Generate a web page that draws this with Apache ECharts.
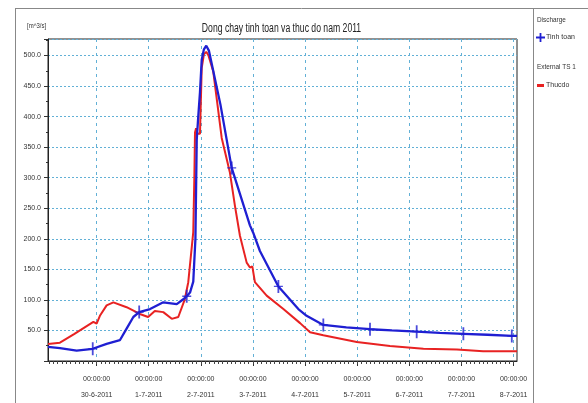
<!DOCTYPE html>
<html>
<head>
<meta charset="utf-8">
<script src="https://cdn.jsdelivr.net/npm/echarts@6/dist/echarts.min.js"></script>
<style>
html,body{margin:0;padding:0;background:#fff;}
#chart{width:588px;height:403px;}
</style>
</head>
<body>
<div id="chart"></div>
<script>
// Hours measured from 30-6-2011 00:00:00
var dayHours = [0, 24, 48, 72, 96, 120, 144, 168, 192];
var dayLabels = ['30-6-2011', '1-7-2011', '2-7-2011', '3-7-2011', '4-7-2011', '5-7-2011', '6-7-2011', '7-7-2011', '8-7-2011'];
var timeLabel = '00:00:00';

// Discharge - Tinh toan (computed)
var tinhToanHours = [-22.4, -16.9, -9.2, -1.8, 4.6, 10.7, 13.8, 16.9, 19.6, 24.6, 30.7, 36.9, 39.9, 41.5, 43.0, 44.5, 45.5, 46.1, 46.8, 47.6, 48.4, 49.4, 50.5, 51.7, 57.0, 62.2, 70.6, 72.1, 75.2, 83.7, 92.9, 96.7, 104.4, 115.0, 125.9, 136.0, 147.4, 158.0, 168.9, 180.0, 191.2, 193.6];
var tinhToanValues = [23, 21, 17, 20, 28, 34, 53, 72, 80, 85, 96, 93, 101, 106, 112, 130, 200, 362, 400, 440, 493, 510, 516, 508, 420, 316, 222, 210, 180, 122, 85, 74, 59, 55, 52, 50, 48, 46, 44.5, 43, 41, 41];

// "+" markers on the computed series
var markerHours = [-1.8, 19.6, 41.5, 62.2, 83.7, 104.4, 125.9, 147.4, 168.9, 191.2];
var markerValues = [20, 80, 106, 316, 122, 59, 52, 48, 44.5, 41];

// External TS 1 - Thucdo (observed)
var thucdoHours = [-22.4, -16.9, -10.4, -1.5, 0, 1.5, 4.6, 7.7, 13.8, 19.9, 23.7, 26.8, 30.7, 34.6, 37.6, 40.6, 42.2, 44.5, 45.0, 45.3, 45.8, 46.5, 47.6, 48.4, 49.4, 50.5, 51.5, 53.7, 57.6, 61.4, 63.7, 66.0, 69.1, 70.6, 71.7, 72.9, 78.3, 86.0, 93.7, 98.3, 104.4, 119.8, 135.1, 150.5, 165.9, 178.0, 193.6];
var thucdoValues = [28, 30, 44, 64, 61, 74, 91, 96, 88, 77, 72, 82, 80, 69, 72, 101, 129, 211, 300, 374, 381, 372, 372, 480, 502, 506, 500, 474, 365, 308, 254, 205, 161, 153, 155, 129, 107, 85, 62, 47, 42, 31, 24.5, 20, 19, 16, 16];

var minorTickHours = [];
for (var h = -22; h <= 192; h += 2) { minorTickHours.push(h); }

function pairs(xs, ys) { return xs.map(function (x, i) { return [x, ys[i]]; }); }

var FONT = "'Liberation Sans Narrow', 'Liberation Sans', Arial, sans-serif";
var PLUS = 'path://M4,0H6V9H10V11H6V20H4V11H0V9H4Z';
var PLUS_SQ = 'path://M4,0H6V4H10V6H6V10H4V6H0V4H4Z';
var BLUE = '#1f1fd2';
var RED = '#e82222';
var GRIDC = '#62b0d6';

var chart = echarts.init(document.getElementById('chart'), null, {renderer: 'canvas'});
chart.setOption({
  backgroundColor: '#fff',
  animation: false,
  graphic: [
    {type: 'line', shape: {x1: 15, y1: 8.5, x2: 588, y2: 8.5}, style: {stroke: '#888', lineWidth: 1}},
    {type: 'line', shape: {x1: 15.5, y1: 8, x2: 15.5, y2: 403}, style: {stroke: '#888', lineWidth: 1}},
    {type: 'line', shape: {x1: 533.5, y1: 8, x2: 533.5, y2: 403}, style: {stroke: '#888', lineWidth: 1}},
    {type: 'text', x: 281.5, y: 29, scaleX: 0.72,
      style: {text: 'Dong chay tinh toan va thuc do nam 2011', textAlign: 'center', textVerticalAlign: 'middle',
        fontFamily: FONT, fontSize: 12, fill: '#222'}},
    {type: 'text', x: 27, y: 26, scaleX: 0.75,
      style: {text: '[m^3/s]', textVerticalAlign: 'middle', fontFamily: FONT, fontSize: 8, fill: '#333'}},
    {type: 'text', x: 537, y: 20, scaleX: 0.8,
      style: {text: 'Discharge', textVerticalAlign: 'middle', fontFamily: FONT, fontSize: 8, fill: '#333'}},
    {type: 'text', x: 537, y: 67, scaleX: 0.8,
      style: {text: 'External TS 1', textVerticalAlign: 'middle', fontFamily: FONT, fontSize: 8, fill: '#333'}}
  ],
  legend: [
    {
      left: 531, top: 28, orient: 'vertical', itemWidth: 9, itemHeight: 9, itemGap: 2,
      data: [{name: 'Tinh toan', icon: PLUS_SQ}],
      textStyle: {fontFamily: FONT, fontSize: 7, color: '#333', padding: [0, 0, 0, -4]}
    },
    {
      left: 532, top: 77, orient: 'vertical', itemWidth: 7, itemHeight: 3, itemGap: 2,
      data: [{name: 'Thucdo', icon: 'rect'}],
      textStyle: {fontFamily: FONT, fontSize: 7, color: '#333', padding: [0, 0, 0, -3]}
    }
  ],
  grid: {
    left: 48, top: 39, width: 469, height: 323,
    show: true, borderColor: '#222', borderWidth: 1, backgroundColor: '#fff'
  },
  xAxis: [
    {
      type: 'value', min: -22.4, max: 193.6, gridIndex: 0,
      axisLine: {show: true, onZero: false, lineStyle: {color: '#222'}},
      axisTick: {show: true, customValues: dayHours, length: 5, lineStyle: {color: '#333'}},
      axisLabel: {
        customValues: dayHours, margin: 10, lineHeight: 16,
        fontFamily: FONT, fontSize: 7, color: '#333',
        formatter: function (v) {
          var i = dayHours.indexOf(Math.round(v));
          return i < 0 ? '' : timeLabel + '\n' + dayLabels[i];
        }
      },
      splitLine: {show: true, lineStyle: {color: GRIDC, type: [3, 4], width: 1}}
    },
    {
      type: 'value', min: -22.4, max: 193.6, gridIndex: 0, position: 'bottom',
      axisLine: {show: false, onZero: false},
      axisTick: {show: true, customValues: minorTickHours, length: 3, lineStyle: {color: '#444'}},
      axisLabel: {show: false},
      splitLine: {show: false}
    }
  ],
  yAxis: {
    type: 'value', min: 0, max: 527, interval: 50,
    axisLine: {show: true, onZero: false, lineStyle: {color: '#222'}},
    axisTick: {show: true, length: 4, lineStyle: {color: '#333'}},
    minorTick: {show: true, splitNumber: 2, length: 2, lineStyle: {color: '#333'}},
    axisLabel: {
      margin: 7, fontFamily: FONT, fontSize: 7, color: '#333',
      formatter: function (v) { return (v > 0 && v % 50 === 0) ? v.toFixed(1) : ''; }
    },
    splitLine: {show: true, lineStyle: {color: GRIDC, type: [2, 2], width: 1}}
  },
  series: [
    {
      name: 'Thucdo', type: 'line', xAxisIndex: 0, data: pairs(thucdoHours, thucdoValues),
      showSymbol: false, symbol: 'none', color: RED,
      lineStyle: {color: RED, width: 2}, z: 2
    },
    {
      name: 'Tinh toan', type: 'line', xAxisIndex: 0, data: pairs(tinhToanHours, tinhToanValues),
      showSymbol: false, symbol: 'none', color: BLUE,
      lineStyle: {color: BLUE, width: 2.3}, z: 3
    },
    {
      name: 'Tinh toan', type: 'scatter', xAxisIndex: 0, data: pairs(markerHours, markerValues),
      symbol: PLUS, symbolSize: [9, 13], itemStyle: {color: BLUE}, z: 4
    }
  ]
});
</script>
</body>
</html>
